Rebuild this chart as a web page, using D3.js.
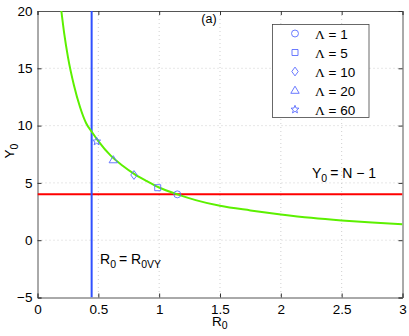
<!DOCTYPE html>
<html><head><meta charset="utf-8">
<script src="https://cdn.jsdelivr.net/npm/d3@7"></script>
<style>body{margin:0;background:#fff}svg{display:block}text{font-family:"Liberation Sans",Arial,sans-serif}</style>
</head><body><svg id="c" width="409" height="336"></svg>
<script>
const xTicks = [0, 0.5, 1, 1.5, 2, 2.5, 3];
const yTicks = [-5, 0, 5, 10, 15, 20];
const curveR = [0.196, 0.22, 0.25, 0.3, 0.35, 0.4, 0.45, 0.5, 0.6, 0.7, 0.8, 0.9, 1.0, 1.15, 1.3, 1.5, 1.75, 2.0, 2.25, 2.5, 2.75, 3.0];
const curveY = [20, 18.0, 16.0, 13.5, 11.6, 10.2, 9.4, 8.65, 7.4, 6.5, 5.75, 5.15, 4.6, 4.0, 3.5, 3.0, 2.6, 2.25, 1.95, 1.72, 1.54, 1.4];
const lambdaLabels = ["Λ = 1", "Λ = 5", "Λ = 10", "Λ = 20", "Λ = 60"];
const lambdaR = [1.149, 0.988, 0.793, 0.623, 0.486];
const lambdaY = [4.0, 4.58, 5.69, 7.0, 8.62];
const markerShapes = ["circle", "square", "diamond", "triangle", "star"];
const R0VY = 0.445;
const N_minus_1 = 4;

const svg = d3.select("#c");
const L = 37.5, R = 402.5, T = 11, B = 297.5;
const x = d3.scaleLinear().domain([0, 3]).range([L, R]);
const y = d3.scaleLinear().domain([-5, 20]).range([B, T]);

// grid
const g = svg.append("g");
g.selectAll(".gx").data(xTicks.slice(1, -1)).join("line")
  .attr("x1", d => x(d)).attr("x2", d => x(d)).attr("y1", T).attr("y2", B)
  .attr("stroke", "#bbb").attr("stroke-width", 0.7).attr("stroke-dasharray", "1,3");
g.selectAll(".gy").data(yTicks.slice(1, -1)).join("line")
  .attr("y1", d => y(d)).attr("y2", d => y(d)).attr("x1", L).attr("x2", R)
  .attr("stroke", "#bbb").attr("stroke-width", 0.7).attr("stroke-dasharray", "1,3");

// axes
const axB = d3.axisBottom(x).tickValues(xTicks).tickSize(-4).tickPadding(7).tickFormat(d3.format("~g"));
const axL = d3.axisLeft(y).tickValues(yTicks).tickSize(-4).tickPadding(5).tickFormat(d => d < 0 ? "\u2212" + Math.abs(d) : d);
const axT = d3.axisTop(x).tickValues(xTicks).tickSize(-4).tickFormat("");
const axR = d3.axisRight(y).tickValues(yTicks).tickSize(-4).tickFormat("");
function style(sel){ sel.select(".domain").attr("stroke","#555"); sel.selectAll(".tick line").attr("stroke","#333");
  sel.selectAll("text").attr("font-size",13.5).attr("fill","#000").attr("font-family","Liberation Sans, Arial, sans-serif"); }
svg.append("g").attr("transform",`translate(0,${B})`).call(axB).call(style);
svg.append("g").attr("transform",`translate(${L},0)`).call(axL).call(style);
svg.append("g").attr("transform",`translate(0,${T})`).call(axT).call(style);
svg.append("g").attr("transform",`translate(${R},0)`).call(axR).call(style);

// clip
svg.append("clipPath").attr("id","clip").append("rect").attr("x",L).attr("y",T).attr("width",R-L).attr("height",B-T);
const plot = svg.append("g").attr("clip-path","url(#clip)");

// red horizontal
plot.append("line").attr("x1",L).attr("x2",R).attr("y1",y(N_minus_1)).attr("y2",y(N_minus_1))
  .attr("stroke","#ff0000").attr("stroke-width",2);
// blue vertical
plot.append("line").attr("x1",x(R0VY)).attr("x2",x(R0VY)).attr("y1",T).attr("y2",B)
  .attr("stroke","#3050ff").attr("stroke-width",2);
// green curve
const pts = curveR.map((r,i)=>[r,curveY[i]]);
plot.append("path").datum(pts).attr("fill","none").attr("stroke","#5cf000").attr("stroke-width",2)
  .attr("d", d3.line().x(d=>x(d[0])).y(d=>y(d[1])).curve(d3.curveMonotoneX));

function starPath(ro, ri){
  const p = [];
  for(let k=0;k<10;k++){ const a = -Math.PI/2 + k*Math.PI/5; const r = k%2? ri: ro; p.push([r*Math.cos(a), r*Math.sin(a)]); }
  return "M" + p.map(q=>q[0].toFixed(2)+","+q[1].toFixed(2)).join("L") + "Z";
}
const shapePaths = {
  circle: d3.symbol().type(d3.symbolCircle).size(38)(),
  square: "M-3,-3L3,-3L3,3L-3,3Z",
  diamond: "M0,-4.4L3.2,0L0,4.4L-3.2,0Z",
  triangle: "M0,-4.3L4.2,2.8L-4.2,2.8Z",
  star: starPath(4.2, 1.8)
};
function marker(sel, shape){
  sel.append("path").attr("d",shapePaths[shape]).attr("fill","none").attr("stroke","#5a6cff").attr("stroke-width",0.9);
}
lambdaR.forEach((r,i)=>{
  const gg = plot.append("g").attr("transform",`translate(${x(r)},${y(lambdaY[i])})`);
  marker(gg, markerShapes[i]);
});

// legend
const lg = svg.append("g");
lg.append("rect").attr("x",272.5).attr("y",24.5).attr("width",96.5).attr("height",93)
  .attr("fill","#fff").attr("stroke","#444").attr("stroke-width",0.8);
const ly = [33.5, 52.5, 71.5, 90.5, 109.5];
lambdaLabels.forEach((t,i)=>{
  const gg = lg.append("g").attr("transform",`translate(295,${ly[i]})`);
  marker(gg, markerShapes[i]);
  const tx = lg.append("text").attr("x",315).attr("y",ly[i]+5).attr("font-size",13.5);
  tx.append("tspan").text("Λ").attr("font-family","Liberation Serif, serif");
  tx.append("tspan").text(t.slice(1));
});

// annotations
svg.append("text").attr("x",209).attr("y",23).attr("font-size",12.5).attr("text-anchor","middle").text("(a)");
function subText(xp, yp, parts, fs){
  const t = svg.append("text").attr("x",xp).attr("y",yp).attr("font-size",fs||14);
  parts.forEach(p=>{
    const s = t.append("tspan").text(p[0]);
    if(p[1]) s.attr("font-size",10.5).attr("dy",4);
    else if(p[2]) s.attr("dy",-4);
  });
  return t;
}
subText(312, 178, [["Y"],["0",1],["= N \u2212 1",0,1]]).selectAll("tspan").filter((d,i)=>i===2).attr("dx",3);
const t2 = subText(100, 264, [["R"],["0",1],["= R",0,1],["0VY",1]]);
t2.selectAll("tspan").filter((d,i)=>i===2).attr("dx",3);
// axis labels
const xl = subText(212, 326, [["R"],["0",1]], 13.5);
xl.select("tspan:last-child").attr("dy",3);
const yl = svg.append("text").attr("transform","translate(14,151) rotate(-90)").attr("font-size",13.5).attr("text-anchor","middle");
yl.append("tspan").text("Y");
yl.append("tspan").text("0").attr("font-size",10.5).attr("dy",4);
</script></body></html>
